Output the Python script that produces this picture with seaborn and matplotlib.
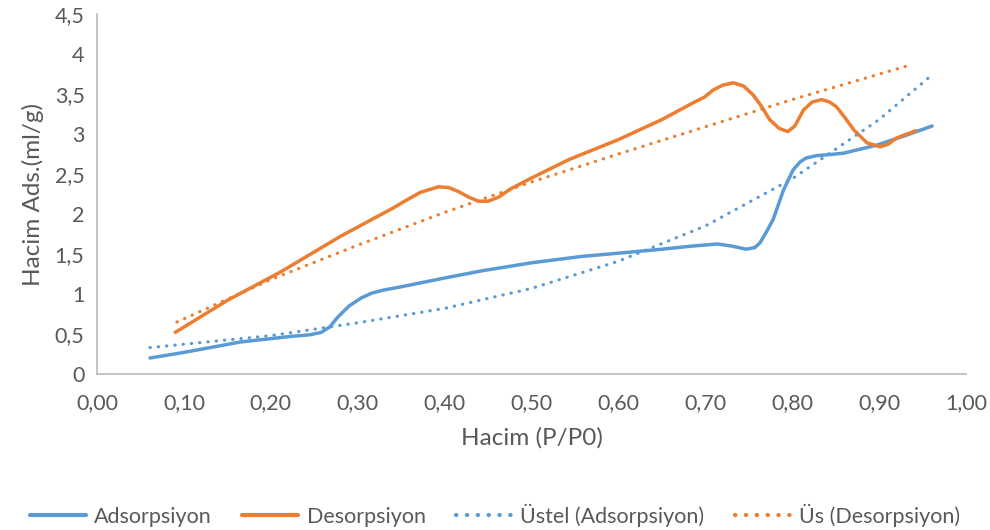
import matplotlib
matplotlib.use("Agg")
import matplotlib.pyplot as plt
import seaborn as sns
import pandas as pd

# Adsorpsiyon
ads_x = [0.061, 0.10, 0.165, 0.223, 0.245, 0.258, 0.268, 0.277, 0.290, 0.304, 0.316, 0.330, 0.35, 0.40, 0.443, 0.50, 0.558, 0.60, 0.65, 0.686, 0.714, 0.730, 0.747, 0.757, 0.763, 0.770, 0.778, 0.790, 0.801, 0.809, 0.816, 0.828, 0.840, 0.859, 0.878, 0.897, 0.93, 0.961]
ads_y = [0.20, 0.27, 0.40, 0.47, 0.49, 0.52, 0.59, 0.71, 0.85, 0.95, 1.01, 1.05, 1.09, 1.20, 1.29, 1.39, 1.47, 1.51, 1.56, 1.60, 1.625, 1.60, 1.56, 1.58, 1.64, 1.77, 1.93, 2.30, 2.55, 2.65, 2.70, 2.73, 2.74, 2.76, 2.81, 2.86, 2.98, 3.10]

# Desorpsiyon
des_x = [0.090, 0.15, 0.212, 0.28, 0.316, 0.340, 0.354, 0.372, 0.393, 0.405, 0.416, 0.428, 0.439, 0.450, 0.462, 0.477, 0.50, 0.543, 0.60, 0.65, 0.686, 0.699, 0.709, 0.720, 0.732, 0.744, 0.755, 0.765, 0.774, 0.785, 0.795, 0.803, 0.813, 0.823, 0.834, 0.843, 0.851, 0.861, 0.871, 0.886, 0.901, 0.910, 0.920, 0.942]
des_y = [0.52, 0.92, 1.28, 1.72, 1.93, 2.07, 2.16, 2.27, 2.34, 2.33, 2.28, 2.21, 2.16, 2.16, 2.21, 2.32, 2.45, 2.68, 2.93, 3.18, 3.39, 3.46, 3.55, 3.61, 3.64, 3.60, 3.49, 3.34, 3.18, 3.07, 3.03, 3.10, 3.30, 3.40, 3.43, 3.40, 3.34, 3.20, 3.05, 2.89, 2.84, 2.87, 2.95, 3.04]

# Üstel (Adsorpsiyon) trendline
exp_x = [0.061, 0.20, 0.30, 0.40, 0.50, 0.60, 0.70, 0.80, 0.90, 0.961]
exp_y = [0.33, 0.48, 0.64, 0.82, 1.07, 1.41, 1.85, 2.44, 3.18, 3.74]

# Üs (Desorpsiyon) trendline
pow_x = [0.092, 0.20, 0.30, 0.40, 0.50, 0.60, 0.70, 0.80, 0.932]
pow_y = [0.65, 1.18, 1.61, 2.02, 2.40, 2.75, 3.09, 3.43, 3.85]

series_names = ["Adsorpsiyon", "Desorpsiyon", "Üstel (Adsorpsiyon)", "Üs (Desorpsiyon)"]
x_ticks = [0.0, 0.1, 0.2, 0.3, 0.4, 0.5, 0.6, 0.7, 0.8, 0.9, 1.0]
x_labels = ["0,00", "0,10", "0,20", "0,30", "0,40", "0,50", "0,60", "0,70", "0,80", "0,90", "1,00"]
y_ticks = [0, 0.5, 1, 1.5, 2, 2.5, 3, 3.5, 4, 4.5]
y_labels = ["0", "0,5", "1", "1,5", "2", "2,5", "3", "3,5", "4", "4,5"]

sns.set_theme(style="white")
plt.rcParams["font.family"] = ["Lato", "DejaVu Sans"]

BLUE = "#5B9BD5"
ORANGE = "#ED7D31"
TXT = "#595959"

fig = plt.figure(figsize=(9.9, 5.3), dpi=100)
ax = fig.add_axes([97 / 990, (530 - 374) / 530, (966 - 97) / 990, (374 - 14) / 530])

df_ads = pd.DataFrame({"x": ads_x, "y": ads_y})
df_des = pd.DataFrame({"x": des_x, "y": des_y})
df_exp = pd.DataFrame({"x": exp_x, "y": exp_y})
df_pow = pd.DataFrame({"x": pow_x, "y": pow_y})

sns.lineplot(data=df_ads, x="x", y="y", ax=ax, color=BLUE, lw=2.5, sort=False,
             label=series_names[0], solid_capstyle="round", solid_joinstyle="round")
sns.lineplot(data=df_des, x="x", y="y", ax=ax, color=ORANGE, lw=2.5, sort=False,
             label=series_names[1], solid_capstyle="round", solid_joinstyle="round")
sns.lineplot(data=df_exp, x="x", y="y", ax=ax, color=BLUE, lw=2.3, sort=False,
             label=series_names[2])
sns.lineplot(data=df_pow, x="x", y="y", ax=ax, color=ORANGE, lw=2.3, sort=False,
             label=series_names[3])
for ln in ax.lines[2:]:
    ln.set_linestyle((0, (0.1, 2.5)))
    ln.set_dash_capstyle("round")

ax.set_xlim(0, 1)
ax.set_ylim(0, 4.5)
ax.set_xticks(x_ticks)
ax.set_xticklabels(x_labels)
ax.set_yticks(y_ticks)
ax.set_yticklabels(y_labels)
ax.tick_params(axis="both", length=0, labelsize=15.5, labelcolor=TXT)
ax.tick_params(axis="x", pad=14)
ax.tick_params(axis="y", pad=9)
for s in ["top", "right"]:
    ax.spines[s].set_visible(False)
for s in ["left", "bottom"]:
    ax.spines[s].set_color("#BFBFBF")
    ax.spines[s].set_linewidth(1.3)

ax.set_xlabel("Hacim (P/P0)", fontsize=17.5, color=TXT, labelpad=10)
ax.set_ylabel("Hacim Ads.(ml/g)", fontsize=17.5, color=TXT, labelpad=8)

ax.legend_.remove()
handles, labels = ax.get_legend_handles_labels()
leg = fig.legend(handles, labels, loc="center", bbox_to_anchor=(0.5, 15 / 530), ncol=4,
                 frameon=False, fontsize=15.5, handlelength=2.6, columnspacing=1.4,
                 handletextpad=0.4, labelcolor=TXT)
for h in leg.legend_handles:
    h.set_linewidth(3)

fig.savefig("out.png", dpi=100)
